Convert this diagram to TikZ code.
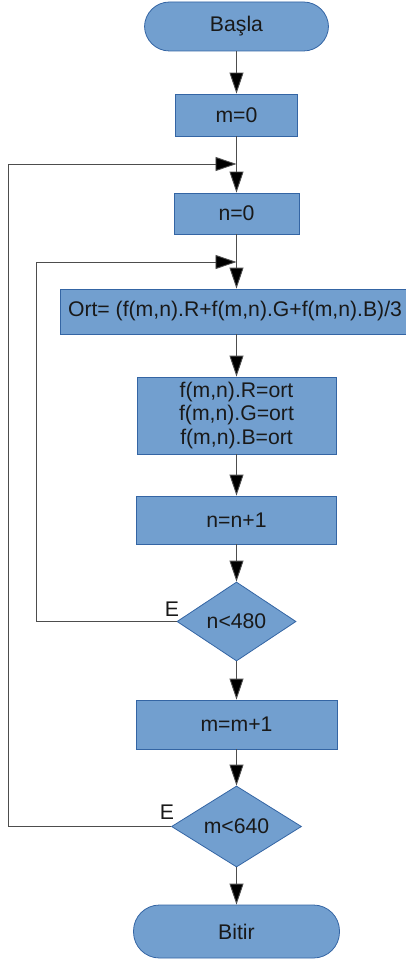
\documentclass[tikz,border=0pt]{standalone}
\usepackage{fontspec}
\setmainfont{Liberation Sans}
\usetikzlibrary{shapes.geometric,arrows.meta}

\definecolor{boxfill}{HTML}{729FCF}
\definecolor{boxline}{HTML}{3465A4}
\definecolor{wire}{HTML}{4D4D4D}

\tikzset{
  base/.style={fill=boxfill, draw=boxline, line width=0.8pt, inner sep=0pt,
    font=\fontsize{21.2}{23.5}\selectfont, text=black!90},
  procbox/.style={base, rectangle},
  termbox/.style={base, rectangle, rounded corners=25pt},
  decbox/.style={base, diamond, aspect=1.5},
  flow/.style={draw=wire, line width=0.9pt,
    -{Triangle[length=21pt,width=14pt,fill=black]}},
  tag/.style={font=\fontsize{21.2}{23.5}\selectfont, text=black!90, inner sep=0pt}
}

\begin{document}
\begin{tikzpicture}[x=1pt,y=-1pt]
  \useasboundingbox (0,0) rectangle (406,960);
  \clip (0,0) rectangle (406,960);

  % main column of steps
  \node[termbox, minimum width=184pt, minimum height=49pt] (start) at (236.5,26.5) {Başla};
  \node[procbox, minimum width=122pt, minimum height=42pt] (m0) at (236.5,115) {m=0};
  \node[procbox, minimum width=125pt, minimum height=41pt] (n0) at (236.5,213.5) {n=0};
  \node[procbox, minimum width=350pt, minimum height=45pt] (ort) at (235,311.5) {Ort= (f(m,n).R+f(m,n).G+f(m,n).B)/3};
  \node[procbox, minimum width=199pt, minimum height=77pt, align=center] (rgb) at (236.5,415.5)
    {f(m,n).R=ort\\f(m,n).G=ort\\f(m,n).B=ort};
  \node[procbox, minimum width=200pt, minimum height=48pt] (ninc) at (236.5,520) {n=n+1};
  \node[decbox, minimum width=119pt, minimum height=79pt] (ntest) at (236.5,621.5) {n<480};
  \node[procbox, minimum width=201pt, minimum height=49pt] (minc) at (236.5,724.5) {m=m+1};
  \node[decbox, minimum width=130pt, minimum height=81pt] (mtest) at (236.5,826.5) {m<640};
  \node[termbox, minimum width=206pt, minimum height=53pt, rounded corners=26pt] (stop) at (236.5,931.5) {Bitir};

  % branch labels
  \node[tag] (e1) at (172,609) {E};
  \node[tag] (e2) at (167,812) {E};

  % junction points where the loops re-enter
  \coordinate (j1) at (236.5,164);
  \coordinate (j2) at (236.5,262);

  % straight flow
  \draw[flow] (start) -- (m0);
  \draw[flow] (m0) -- (n0);
  \draw[flow] (n0.south) -- (n0.south |- ort.north);
  \draw[flow] (ort.south -| rgb.north) -- (rgb.north);
  \draw[flow] (rgb) -- (ninc);
  \draw[flow] (ninc) -- (ntest);
  \draw[flow] (ntest) -- (minc);
  \draw[flow] (minc) -- (mtest);
  \draw[flow] (mtest) -- (stop);

  % loop back-edges
  \draw[flow] (ntest.west) -- (36,621.5) -- (36,262) -- (j2);
  \draw[flow] (mtest.west) -- (8,826.5) -- (8,164) -- (j1);
\end{tikzpicture}
\end{document}
